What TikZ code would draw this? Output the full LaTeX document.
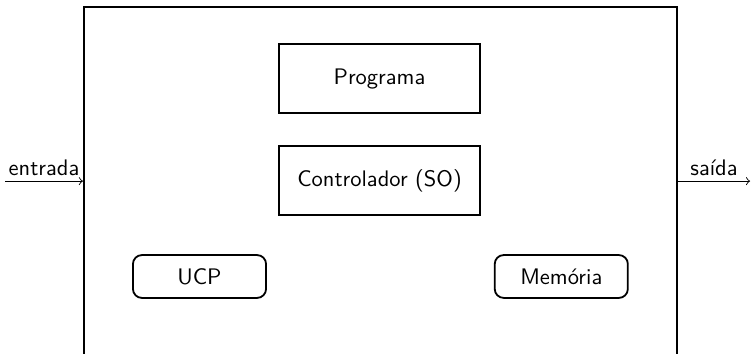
\documentclass[tikz,border=0pt]{standalone}
\usepackage{tikz}
\usetikzlibrary{positioning}
\renewcommand{\familydefault}{\sfdefault}

\begin{document}
\begin{tikzpicture}[
		caixa/.style={draw, thick, minimum width=3.14cm, minimum height=1.08cm},
		bloco/.style={draw, thick, rounded corners=4pt, minimum width=2.08cm, minimum height=0.67cm}]
		%%%%% START %%%%%
		
		\useasboundingbox (0, 0) rectangle (11.75, -5.516);
		
		\node[draw, thick, minimum width=9.27cm, minimum height=5.45cm] (sistema) at (5.945, -2.83) {};
		
		\node[caixa] (programa) at (5.93, -1.227) {Programa};
		\node[caixa] (controlador) at (5.93, -2.82) {Controlador (SO)};
		
		\node[bloco] (ucp) at (3.117, -4.32) {UCP};
		\node[bloco] (memoria) at (8.77, -4.32) {Memória};
		
		\coordinate (entrada) at (0.08, -2.83);
		\coordinate (saida) at (11.72, -2.83);
		
		\draw[->] (entrada) -- node[above, inner sep=2pt] {entrada} (sistema.west);
		\draw[->] (sistema.east) -- node[above, inner sep=2pt] {saída} (saida);
		
		%%%%% END %%%%%
	\end{tikzpicture}
\end{document}
